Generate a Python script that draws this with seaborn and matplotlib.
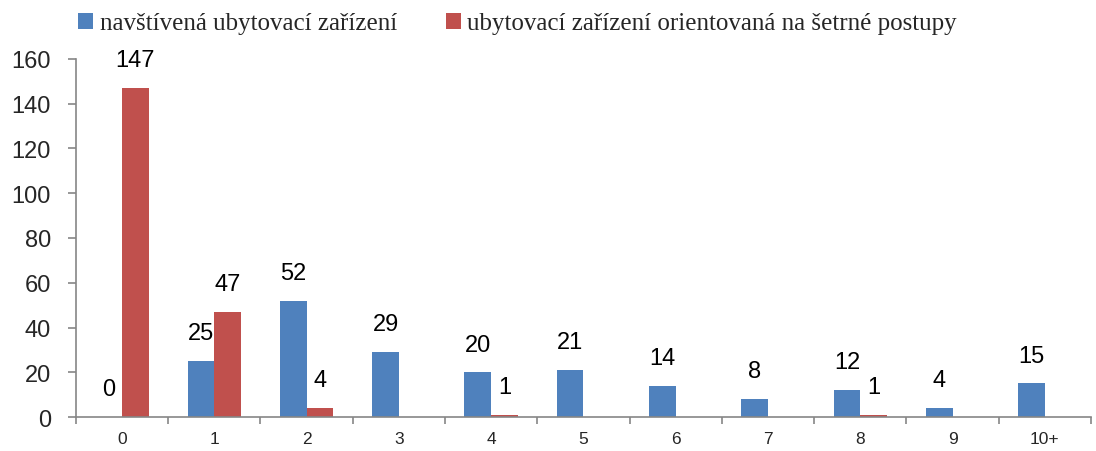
import matplotlib
matplotlib.use('Agg')
import matplotlib.pyplot as plt
import seaborn as sns
import pandas as pd
import numpy as np
from matplotlib.ticker import FixedLocator, MultipleLocator

# dados
kategorie = ['0', '1', '2', '3', '4', '5', '6', '7', '8', '9', '10+']
serie_modra = 'navštívená ubytovací zařízení'
serie_cervena = 'ubytovací zařízení orientovaná na šetrné postupy'
navstivena = [0, 25, 52, 29, 20, 21, 14, 8, 12, 4, 15]
setrne = [147, 47, 4, None, 1, None, None, None, 1, None, None]

df = pd.DataFrame({
    'kategorie': kategorie * 2,
    'serie': [serie_modra] * len(kategorie) + [serie_cervena] * len(kategorie),
    'pocet': navstivena + setrne,
}).dropna()

sns.set_style('white')
plt.rcParams['font.family'] = ['Liberation Sans', 'DejaVu Sans']

fig = plt.figure(figsize=(10.96, 4.52), dpi=100)
ax = fig.add_axes([0.0693, 0.0752, 0.9261, 0.7921])

sns.barplot(data=df, x='kategorie', y='pocet', hue='serie', order=kategorie,
            hue_order=[serie_modra, serie_cervena],
            palette=['#4F81BD', '#C0504D'], width=0.58, gap=0,
            saturation=1, errorbar=None, ax=ax, legend=True,
            linewidth=0)

# popisky hodnot
for cont in ax.containers:
    ax.bar_label(cont, labels=[f'{v:.0f}' for v in cont.datavalues],
                 padding=12, fontsize=17, color='black')

ax.set_xlim(-0.5, 10.5)
ax.set_ylim(0, 160)
ax.yaxis.set_major_locator(MultipleLocator(20))
ax.set_xlabel('')
ax.set_ylabel('')

for s in ['top', 'right']:
    ax.spines[s].set_visible(False)
for s in ['left', 'bottom']:
    ax.spines[s].set_color('#868686')
    ax.spines[s].set_linewidth(1.2)

ax.tick_params(axis='y', left=True, length=6, width=1.2, color='#868686',
               pad=12, labelsize=17)
ax.tick_params(axis='x', which='major', length=0, pad=10, labelsize=12.5)
ax.xaxis.set_minor_locator(FixedLocator(np.arange(-0.5, 11, 1)))
ax.tick_params(axis='x', which='minor', bottom=True, length=5, width=1.2,
               color='#868686')

h, l = ax.get_legend_handles_labels()
ax.legend_.remove()
fig.legend(h, l, loc='upper left', bbox_to_anchor=(0.051, 1.02), ncol=2,
           frameon=False, prop={'family': 'Liberation Serif', 'size': 18},
           handlelength=0.6, handleheight=0.6, handletextpad=0.25,
           columnspacing=1.95)

fig.savefig('out.png', dpi=100)
